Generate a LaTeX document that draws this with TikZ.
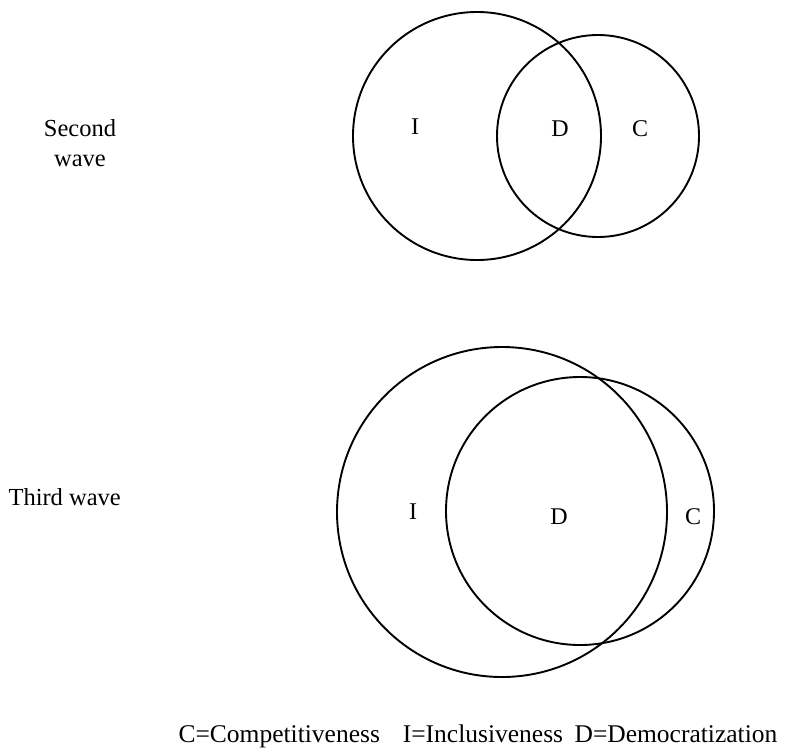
\documentclass[tikz,border=0pt]{standalone}
\usepackage{fontspec}
\setmainfont{Liberation Serif}
\begin{document}
\begin{tikzpicture}[x=1pt,y=-1pt,
  ring/.style={draw=black,line width=1.9pt},
  lbl/.style={font=\fontsize{24}{26}\selectfont},
  side/.style={font=\fontsize{24.5}{30}\selectfont,align=center}]
\useasboundingbox (0,0) rectangle (792,755);
% second wave
\draw[ring] (477,136) circle (124);
\draw[ring] (598,136) circle (101);
\node[lbl] (i1) at (415,127) {I};
\node[lbl] (d1) at (560,129) {D};
\node[lbl] (c1) at (640,129) {C};
\node[side] (sw) at (80,143) {Second\\wave};
% third wave
\draw[ring] (502,512) circle (165);
\draw[ring] (580,511) circle (134);
\node[lbl] (i2) at (413,512) {I};
\node[lbl] (d2) at (559,517) {D};
\node[lbl] (c2) at (693,517) {C};
\node[side,anchor=west] (tw) at (5,497) {Third wave};
% legend
\node[lbl,anchor=base west,font=\fontsize{25.5}{27}\selectfont] (leg) at (175,742) {C=Competitiveness\hspace{0.9em}I=Inclusiveness\hspace{0.45em}D=Democratization};
\end{tikzpicture}
\end{document}
